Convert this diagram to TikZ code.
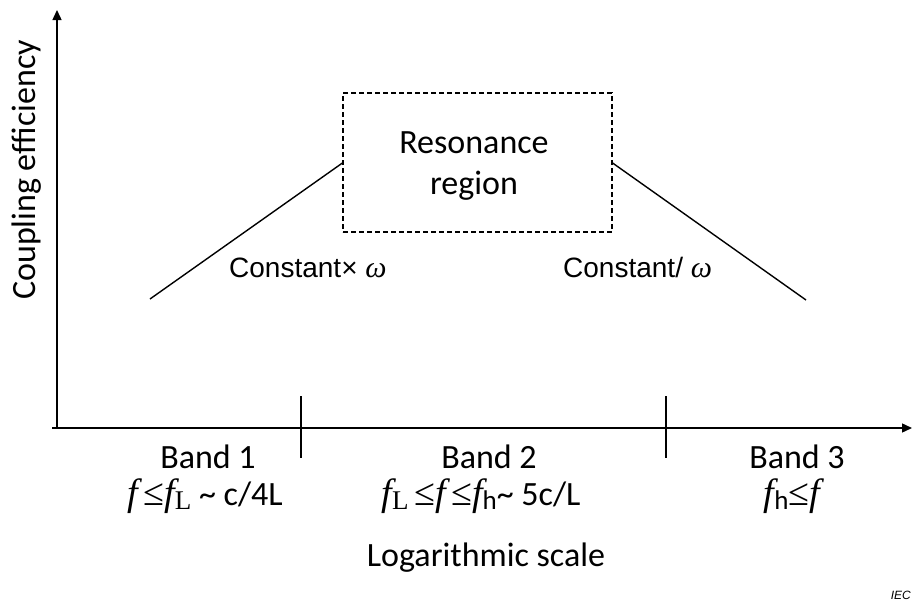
\documentclass[tikz,border=0pt]{standalone}
\usepackage{fontspec}
\setmainfont{Carlito}
\newfontfamily\arialfont{Liberation Sans}
\newfontfamily\timesfont{Liberation Serif}
\usepackage{tikz}
\usetikzlibrary{positioning,arrows.meta}

\newcommand{\ff}{{\timesfont\fontsize{38}{40}\selectfont\itshape f}}
\newcommand{\lee}{{\timesfont\fontsize{38}{40}\selectfont\char"2264}}
\newcommand{\om}{{\timesfont\fontsize{30}{32}\selectfont\itshape\char"03C9}}
\newcommand{\sub}[1]{\raisebox{-0.3ex}{\fontsize{27}{29}\selectfont #1}}

\begin{document}
\begin{tikzpicture}[
        x=1pt, y=-1pt,
        txt/.style={inner sep=0pt, font=\fontsize{34}{40}\selectfont},
        lbl/.style={inner sep=0pt, font=\arialfont\fontsize{28}{30}\selectfont},
        axis/.style={line width=1.4pt, -{Triangle[length=10pt,width=9pt]}},
        slope/.style={line width=1.4pt},
        tick/.style={line width=1.4pt}
    ]
        \useasboundingbox (0,0) rectangle (914,605);

        % axes
        \coordinate (o) at (57,428);
        \coordinate (ytop) at (57,10);
        \coordinate (xend) at (912,428);
        \draw[axis] (o) -- (ytop);
        \draw[axis] (52,428) -- (xend);
        \node[txt, rotate=90] (ylab) at (27,170) {Coupling efficiency};
        \node[txt] (xlab) at (486,558) {Logarithmic scale};

        % band limits
        \draw[tick] (301,396) -- (301,458);
        \draw[tick] (666,396) -- (666,458);

        % resonance box
        \node[draw, dash pattern=on 5pt off 3pt, line width=1.2pt,
              minimum width=269pt, minimum height=139pt] (res) at (477.5,162.5) {};
        \node[txt, align=center, font=\fontsize{34}{41}\selectfont]
              (restxt) at (474,166) {Resonance\\region};

        % slopes
        \coordinate (l0) at (150,299);
        \coordinate (r1) at (806,300);
        \draw[slope] (l0) -- (res.west |- 0,163);
        \draw[slope] (res.east |- 0,163) -- (r1);
        \node[lbl, anchor=base west] (cmul) at (229,277) {Constant\texttimes{} \om};
        \node[lbl, anchor=base west] (cdiv) at (563,277) {Constant/ \om};

        % band labels
        \node[txt] (b1) at (208,457) {Band 1};
        \node[txt] (b2) at (489,457) {Band 2};
        \node[txt] (b3) at (797,457) {Band 3};
        \node[txt, anchor=base] (b1f) at (205,505)
            {\ff\,\lee\ff\sub{\timesfont L} \textasciitilde{} c/4L};
        \node[txt, anchor=base] (b2f) at (481,505)
            {\ff\sub{\timesfont L}\,\lee\ff\,\lee\ff\sub{h}\textasciitilde{} 5c/L};
        \node[txt, anchor=base] (b3f) at (792,505)
            {\ff\sub{h}\lee\ff};

        \node[inner sep=0pt, font=\arialfont\itshape\fontsize{12}{14}\selectfont,
              anchor=base east] (iec) at (911,599) {IEC};
    \end{tikzpicture}
\end{document}
